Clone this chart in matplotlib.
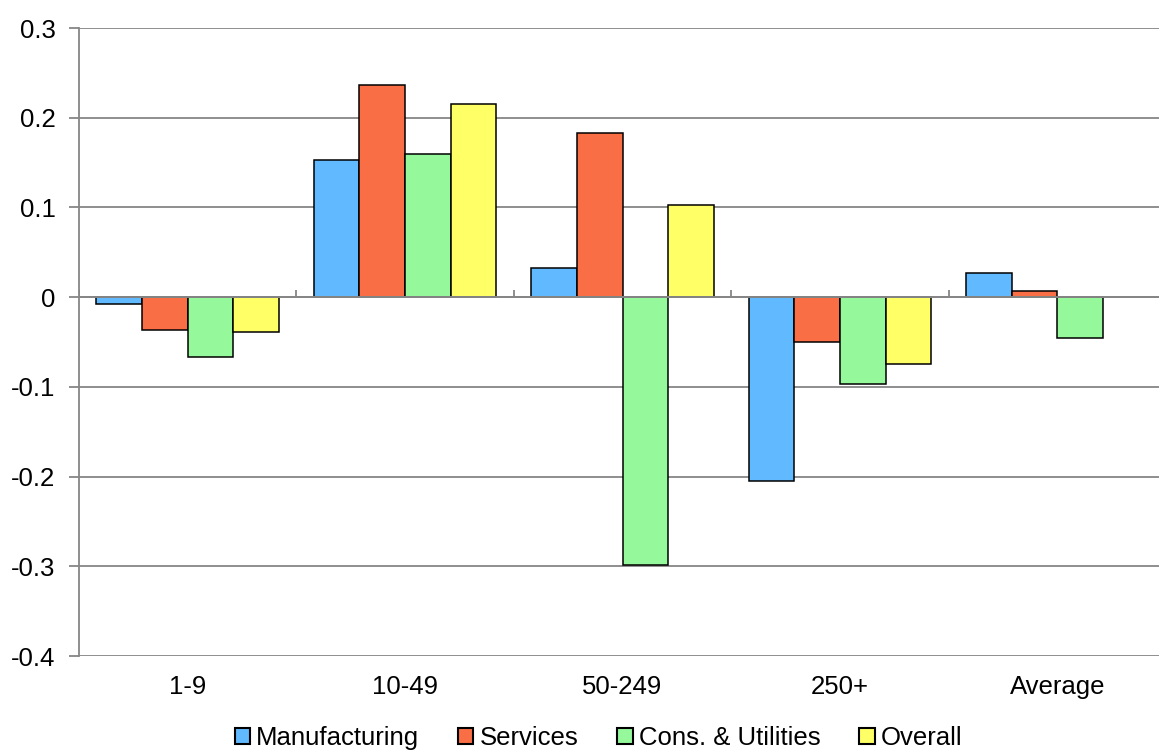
import numpy as np
from matplotlib import pyplot as plt

plt.rcParams['font.family'] = ['Liberation Sans', 'DejaVu Sans']

## size classes along the x axis
categories = ["1-9", "10-49", "50-249", "250+", "Average"]
series_names = ["Manufacturing", "Services", "Cons. & Utilities", "Overall"]

## values for each sector per size class
manufacturing = [-0.008, 0.153, 0.032, -0.205, 0.027]
services = [-0.037, 0.236, 0.183, -0.050, 0.007]
cons_utilities = [-0.067, 0.159, -0.299, -0.097, -0.046]
overall = [-0.039, 0.215, 0.103, -0.074, np.nan]

colors = ["#61BAFF", "#FA6E46", "#95F99B", "#FFFF66"]
grid_col = "#868686"

fig = plt.figure(figsize=(11.59, 7.51), dpi=100)
ax = fig.add_axes([79 / 1159, 1 - 656 / 751, 1087 / 1159, 628 / 751])

x = np.arange(len(categories))
width = 0.21
all_series = [manufacturing, services, cons_utilities, overall]
for i, vals in enumerate(all_series):
    ax.bar(x + (i - 1.5) * width, vals, width, color=colors[i],
           edgecolor="black", linewidth=1.1, label=series_names[i], zorder=2)

ax.set_xlim(-0.5, len(categories) - 0.5)
ax.set_ylim(-0.4, 0.3)
ax.set_yticks(np.arange(-0.4, 0.31, 0.1))
ax.set_yticklabels(["-0.4", "-0.3", "-0.2", "-0.1", "0", "0.1", "0.2", "0.3"])
ax.set_xticks(x)
ax.set_xticklabels(categories)

# horizontal gridlines behind the bars
ax.yaxis.grid(True, color=grid_col, linewidth=1.3, zorder=0)
ax.set_axisbelow(True)

# zero axis line on top, with category separators
ax.axhline(0, color=grid_col, linewidth=1.4, zorder=3)
ax.vlines(np.arange(len(categories) + 1) - 0.5, 0, 0.0075, color=grid_col,
          linewidth=1.3, zorder=3)

for side in ["top", "right", "bottom"]:
    ax.spines[side].set_visible(False)
ax.spines["left"].set_color(grid_col)
ax.spines["left"].set_linewidth(1.3)

ax.tick_params(axis="y", colors=grid_col, length=7, width=1.3, pad=10,
               labelsize=18.5, labelcolor="black")
ax.tick_params(axis="x", length=0, pad=14, labelsize=18.5)

leg = ax.legend(loc="center", bbox_to_anchor=(0.478, -0.131), ncol=4,
                frameon=False, fontsize=18.5, handlelength=0.6,
                handleheight=0.6, handletextpad=0.25, columnspacing=1.5,
                borderpad=0)
for h in leg.legend_handles:
    h.set_linewidth(1.5)

fig.savefig("out.png", dpi=100)
